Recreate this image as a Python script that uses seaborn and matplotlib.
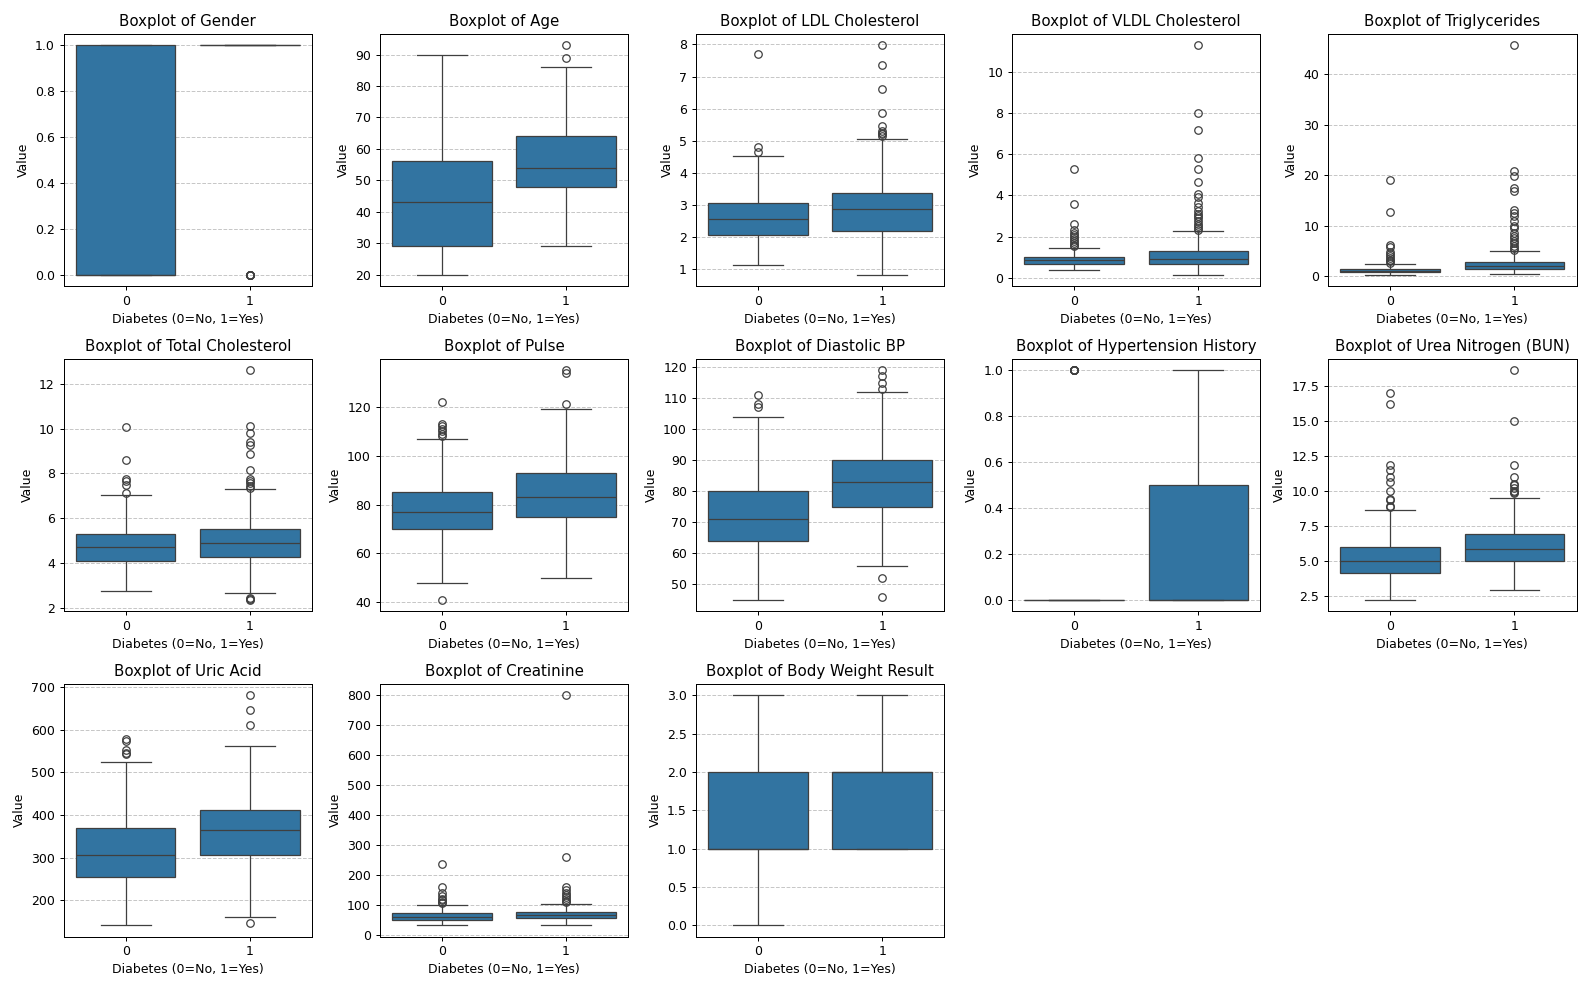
import pandas as pd
import seaborn as sns
import matplotlib.pyplot as plt

# Box summaries:
# (low outliers, lower whisker, q1, median, q3, upper whisker, high outliers)
features = [
    "Gender", "Age", "LDL Cholesterol", "VLDL Cholesterol", "Triglycerides",
    "Total Cholesterol", "Pulse", "Diastolic BP", "Hypertension History",
    "Urea Nitrogen (BUN)", "Uric Acid", "Creatinine", "Body Weight Result",
]

no_diabetes = [
    ([], 0, 0, 0, 1, 1, []),
    ([], 20, 29, 43, 56, 90, []),
    ([], 1.12, 2.06, 2.57, 3.06, 4.53, [4.65, 4.82, 7.7]),
    ([], 0.4, 0.67, 0.85, 1.02, 1.47,
     [1.56, 1.6, 1.7, 1.8, 1.9, 2.0, 2.1, 2.2, 2.3, 2.6, 3.6, 5.3]),
    ([], 0.3, 0.75, 1.05, 1.5, 2.5,
     [2.7, 3.0, 3.3, 3.6, 4.0, 4.4, 4.8, 5.8, 6.1, 12.8, 19.0]),
    ([], 2.75, 4.1, 4.7, 5.3, 7.02, [7.12, 7.5, 7.65, 7.75, 8.6, 10.05]),
    ([41], 48, 70, 77, 85, 107, [108, 109, 110, 111, 112, 113, 122]),
    ([], 45, 64, 71, 80, 104, [107, 108, 111]),
    ([], 0, 0, 0, 0, 0, [1, 1, 1, 1, 1, 1]),
    ([], 2.2, 4.15, 4.95, 6.0, 8.65,
     [8.8, 8.9, 9.3, 9.4, 10.0, 10.6, 11.0, 11.5, 11.8, 16.2, 17.0]),
    ([], 142, 255, 307, 369, 524, [542, 546, 552, 574, 577]),
    ([], 32, 50, 58, 72, 100, [107, 110, 115, 120, 130, 140, 158, 237]),
    ([], 0, 1, 1, 2, 3, []),
]

yes_diabetes = [
    ([0, 0, 0, 0, 0, 0], 1, 1, 1, 1, 1, []),
    ([], 29, 48, 54, 64, 86, [89, 93]),
    ([], 0.83, 2.2, 2.87, 3.37, 5.05,
     [5.15, 5.2, 5.25, 5.3, 5.45, 5.85, 6.6, 7.35, 7.98]),
    ([], 0.15, 0.68, 0.93, 1.32, 2.25,
     [2.3, 2.4, 2.5, 2.6, 2.75, 2.9, 3.0, 3.1, 3.25, 3.45, 3.65, 3.9,
      4.05, 4.65, 5.3, 5.8, 7.2, 8.0, 11.3]),
    ([], 0.45, 1.35, 2.0, 2.85, 5.05,
     [5.2, 5.5, 6.0, 6.5, 7.0, 7.5, 8.0, 8.5, 9.5, 10.0, 11.0, 12.0, 12.5,
      13.2, 16.8, 17.5, 19.8, 20.8, 45.8]),
    ([2.35, 2.4, 2.43], 2.65, 4.28, 4.87, 5.5, 7.3,
     [7.36, 7.45, 7.55, 7.65, 7.75, 8.15, 8.85, 9.25, 9.4, 9.8, 10.1, 12.6]),
    ([], 50, 75, 83, 93, 119, [121, 134, 135]),
    ([46, 52], 56, 75, 83, 90, 112, [113, 115, 117, 119]),
    ([], 0, 0, 0, 0.5, 1, []),
    ([], 2.9, 5.0, 5.8, 6.9, 9.45,
     [9.8, 9.9, 10.0, 10.2, 10.4, 10.5, 11.0, 11.8, 15.0, 18.6]),
    ([148], 162, 307, 364, 411, 562, [610, 645, 680]),
    ([], 32, 56, 65, 76, 103,
     [108, 112, 118, 125, 132, 140, 150, 160, 258, 800]),
    ([], 1, 1, 2, 2, 3, []),
]


def sample_from_summary(summary):
    # rebuild a sample whose quartiles, whiskers and fliers match the summary
    low, wlo, q1, med, q3, whi, high = summary
    m = max(len(low), len(high)) + 1
    values = list(low) + [wlo] * (m - len(low))
    values += [q1] * m + [med] * m + [q3] * (m - len(high))
    values += [whi] + list(high)
    return values


def main():
    dpi = 90
    fig, axes = plt.subplots(3, 5, figsize=(1590 / dpi, 989 / dpi))
    axes = axes.flatten()

    for i, name in enumerate(features):
        ax = axes[i]
        rows = []
        for group, summary in ((0, no_diabetes[i]), (1, yes_diabetes[i])):
            for v in sample_from_summary(summary):
                rows.append({"Diabetes": group, "Value": v})
        data = pd.DataFrame(rows)

        sns.boxplot(x="Diabetes", y="Value", data=data, ax=ax)
        ax.set_title(f"Boxplot of {name}")
        ax.set_xlabel("Diabetes (0=No, 1=Yes)")
        ax.set_ylabel("Value")
        ax.grid(axis="y", linestyle="--", alpha=0.7)

    for j in range(len(features), len(axes)):
        fig.delaxes(axes[j])

    plt.tight_layout()
    plt.savefig("out.png", dpi=dpi)


if __name__ == "__main__":
    main()
